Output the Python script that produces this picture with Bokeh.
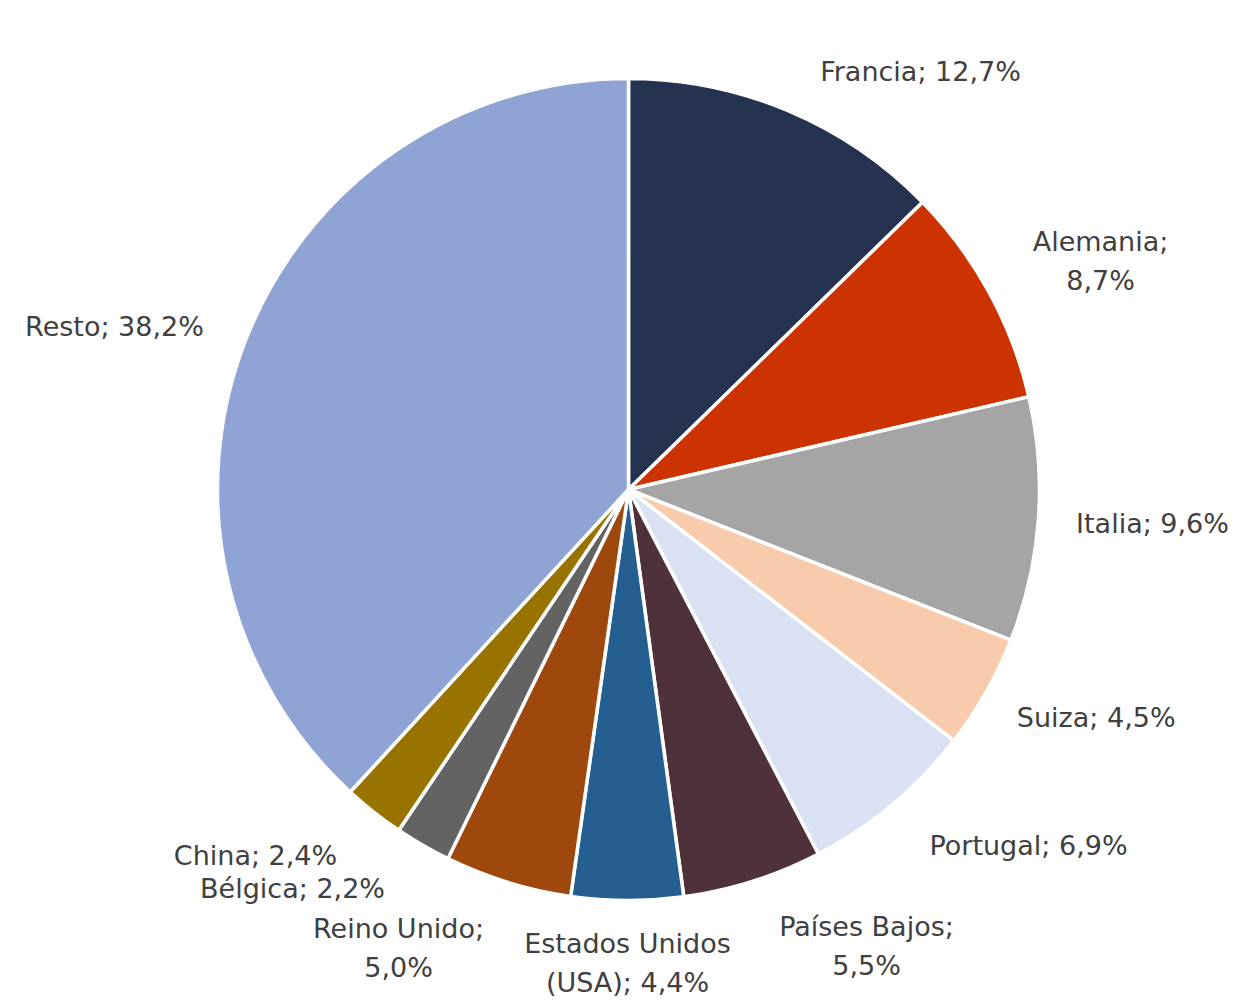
import numpy as np
from bokeh.plotting import figure
from bokeh.models import ColumnDataSource, Range1d
from bokeh.embed import file_html
from bokeh.resources import INLINE
from bokeh.core.properties import value

# ---- data ----
countries = ["Francia", "Alemania", "Italia", "Suiza", "Portugal", "Países Bajos",
             "Estados Unidos (USA)", "Reino Unido", "Bélgica", "China", "Resto"]
shares = [12.7, 8.7, 9.6, 4.5, 6.9, 5.5, 4.4, 5.0, 2.2, 2.4, 38.2]
label_lines = [["Francia; 12,7%"], ["Alemania;", "8,7%"], ["Italia; 9,6%"],
               ["Suiza;  4,5%"], ["Portugal; 6,9%"], ["Países Bajos;", "5,5%"],
               ["Estados Unidos", "(USA); 4,4%"], ["Reino Unido;", "5,0%"],
               ["Bélgica; 2,2%"], ["China; 2,4%"], ["Resto; 38,2%"]]

# ---- styles / layout ----
colors = ["#263350", "#CC3300", "#A5A5A5", "#F8CBAD", "#DAE1F3", "#4F313A",
          "#255E91", "#9E480E", "#636363", "#997300", "#8FA3D4"]
# label block centres in screen pixels (x, y)
label_pos = [(920, 71), (1100, 260), (1152, 523), (1100, 717), (1028, 845),
             (866, 945), (627, 962), (398, 947), (292, 888), (255, 855), (114, 326)]
line_gap = 39
FONT = "DejaVu Sans"
FSIZE = "27px"
TCOL = "#404040"

W, H = 1238, 1001
cx, cy_screen, R = 628, 489, 411

def sy(y):
    return H - y

vals = np.array(shares, dtype=float)
frac = vals / vals.sum()
cum = np.concatenate([[0], np.cumsum(frac)])
start = np.pi / 2 - 2 * np.pi * cum[:-1]
end = np.pi / 2 - 2 * np.pi * cum[1:]

src = ColumnDataSource(dict(country=countries, share=shares, start=start, end=end,
                            color=colors, x=[cx] * len(shares), y=[sy(cy_screen)] * len(shares)))

p = figure(width=W, height=H, x_range=Range1d(0, W), y_range=Range1d(0, H),
           toolbar_location=None, output_backend="svg", min_border=0,
           outline_line_color=None, background_fill_color="white")
p.axis.visible = False
p.grid.visible = False

p.wedge(x="x", y="y", radius=R, start_angle="start", end_angle="end", direction="clock",
        fill_color="color", line_color="white", line_width=3.5, source=src)

tx, ty, tt = [], [], []
for lines, (lx, ly) in zip(label_lines, label_pos):
    n = len(lines)
    for i, t in enumerate(lines):
        tx.append(lx)
        ty.append(sy(ly + (i - (n - 1) / 2) * line_gap))
        tt.append(t)

p.text(x=tx, y=ty, text=tt, text_align="center", text_baseline="middle",
       text_font=value(FONT), text_font_size=FSIZE, text_color=TCOL)

open("out.html", "w").write(file_html(p, INLINE))
